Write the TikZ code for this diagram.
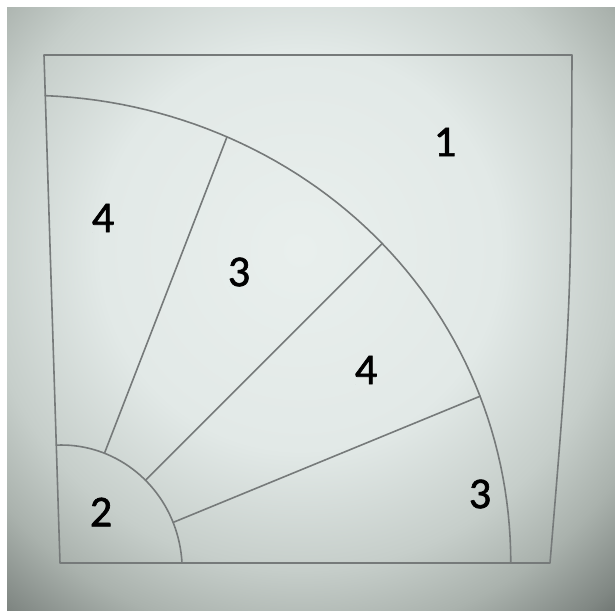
\documentclass[tikz,border=0pt]{standalone}
\usepackage{fontspec}
\newfontfamily\labelfont[FakeBold=1.5]{Carlito}
\definecolor{pl}{RGB}{233,239,237}
\definecolor{pa}{RGB}{226,233,231}
\definecolor{pb}{RGB}{198,206,202}
\definecolor{pc}{RGB}{170,178,173}
\definecolor{pe}{RGB}{128,135,131}
\definecolor{pd}{RGB}{96,102,99}
\definecolor{inkgray}{RGB}{118,122,122}
\pgfdeclareradialshading{paper}{\pgfpoint{0bp}{0bp}}{color(0bp)=(pl); color(10bp)=(pa); color(16bp)=(pb); color(19.5bp)=(pc); color(23bp)=(pe); color(25bp)=(pd); color(50bp)=(pd)}
% polar point (radius #2, angle #3) in ideal square mapped to photo pixel coords
\newcommand\mkpt[3]{%
  \pgfmathsetmacro\tmpu{#2*cos(#3)}%
  \pgfmathsetmacro\tmpv{#2*sin(#3)}%
  \pgfmathsetmacro\tmpx{(60-16*\tmpv)+\tmpu*(490+38*\tmpv)}%
  \pgfmathsetmacro\tmpy{563-508*\tmpv}%
  \coordinate (#1) at (\tmpx,\tmpy);}
\tikzset{
  ink/.style={draw=inkgray, line width=1.6pt, line join=round, line cap=round},
  num/.style={font=\labelfont\fontsize{44}{44}\selectfont, text=black, inner sep=0pt}
}
\begin{document}
\begin{tikzpicture}[x=1pt,y=-1pt]
\useasboundingbox (0,0) rectangle (615,610);
\fill[white] (0,0) rectangle (615,610);
\begin{scope}
\clip (7,8) rectangle (615,610);
\shade[shading=paper] (300,250) circle (500);
\end{scope}
% square (photographed, slightly trapezoidal)
\coordinate (tl) at (44,55);
\coordinate (tr) at (572,55);
\coordinate (br) at (550,563);
\coordinate (bl) at (60,563);
\draw[ink] (tl) -- (tr) .. controls (571,309) .. (br) -- (bl) -- cycle;
% arcs
\draw[ink] plot[domain=0:90, samples=60, variable=\t]
  ({(60-16*(0.92-0.018*sin(2*\t))*sin(\t)) + (0.92-0.018*sin(2*\t))*cos(\t)*(490+38*(0.92-0.018*sin(2*\t))*sin(\t))},{563-508*(0.92-0.018*sin(2*\t))*sin(\t)});
\draw[ink] plot[domain=0:90, samples=40, variable=\t]
  ({(60-16*(0.249-0.017*\t/90)*sin(\t)) + (0.249-0.017*\t/90)*cos(\t)*(490+38*(0.249-0.017*\t/90)*sin(\t))},{563-508*(0.249-0.017*\t/90)*sin(\t)});
% spokes
\mkpt{a1}{0.2366}{66}
\mkpt{b1}{0.907}{67.6}
\mkpt{a2}{0.241}{42.5}
\mkpt{b2}{0.902}{44.2}
\mkpt{a3}{0.2455}{19}
\mkpt{b3}{0.908}{21.2}
\draw[ink] (a1) -- (b1);
\draw[ink] (a2) -- (b2);
\draw[ink] (a3) -- (b3);
% labels
\node[num] (n1) at (445,142) {1};
\node[num] (n4a) at (103,218) {4};
\node[num] (n3a) at (239,272) {3};
\node[num] (n4b) at (366,370) {4};
\node[num] (n3b) at (480,494) {3};
\node[num] (n2) at (101,512) {2};
\end{tikzpicture}
\end{document}
